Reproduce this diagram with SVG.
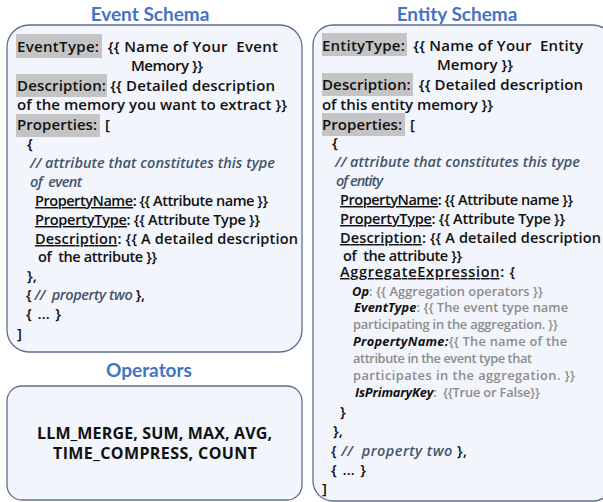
<svg xmlns="http://www.w3.org/2000/svg" width="603" height="502" viewBox="0 0 603 502">
<style>
text{white-space:pre}
.box{fill:#f2f5fb;stroke:#5f6d8c;stroke-width:1.3}
.title{font-family:Lato,"Noto Sans",sans-serif;font-weight:bold;font-size:19px;fill:#4472c4;text-anchor:middle}
.t{font-family:"Open Sans","Noto Sans",sans-serif;font-weight:600;font-size:15px;fill:#111}
.p{font-size:14.5px}
.c{font-style:italic;fill:#44546a}
.u{text-decoration:underline}
.g{font-family:"Open Sans","Noto Sans",sans-serif;font-weight:600;font-size:12.8px;fill:#8c8c8c}
.k{font-style:italic;font-weight:bold;fill:#111}
.hl{fill:#c4c4c4}
.op{font-family:"Open Sans","Noto Sans",sans-serif;font-weight:bold;font-size:16px;fill:#111;text-anchor:middle}
</style>
<rect width="603" height="502" fill="#ffffff"/>
<g id="event-schema">
<text class="title" x="150" y="21">Event Schema</text>
<rect class="box" x="7" y="25" width="295" height="327" rx="22"/>
<rect class="hl" x="16" y="34" width="86" height="24"/>
<rect class="hl" x="16" y="74" width="91" height="23"/>
<rect class="hl" x="16" y="114" width="84" height="23"/>
<text class="t" x="17" y="52" textLength="261">EventType:  {{ Name of Your  Event</text>
<text class="t" x="131" y="71" textLength="72">Memory }}</text>
<text class="t" x="17" y="91" textLength="258">Description: {{ Detailed description</text>
<text class="t" x="17" y="110" textLength="270">of the memory you want to extract }}</text>
<text class="t" x="17" y="130" textLength="93">Properties:  [</text>
<text class="t" x="27" y="149">{</text>
<text class="t p c" x="30" y="168" textLength="245">// attribute that constitutes this type</text>
<text class="t p c" x="30" y="187" textLength="52">of  event</text>
<text class="t p" x="35" y="206" textLength="233"><tspan class="u">PropertyName</tspan>: {{ Attribute name }}</text>
<text class="t p" x="35" y="225" textLength="225"><tspan class="u">PropertyType</tspan>: {{ Attribute Type }}</text>
<text class="t p" x="35" y="244" textLength="263"><tspan class="u">Description</tspan>: {{ A detailed description</text>
<text class="t p" x="38" y="262" textLength="119">of  the attribute }}</text>
<text class="t" x="27" y="281">},</text>
<text class="t p" x="26" y="300" textLength="119">{ <tspan class="c">//  property two</tspan> },</text>
<text class="t" x="26" y="319" textLength="35">{ … }</text>
<text class="t" x="17" y="339">]</text>
</g>
<g id="entity-schema">
<text class="title" x="457" y="21">Entity Schema</text>
<rect class="box" x="313" y="25" width="300" height="476" rx="20"/>
<rect class="hl" x="322" y="33" width="85" height="23"/>
<rect class="hl" x="322" y="73" width="91" height="23"/>
<rect class="hl" x="322" y="113" width="83" height="23"/>
<text class="t" x="322" y="51" textLength="261">EntityType:  {{ Name of Your  Entity</text>
<text class="t" x="437" y="70" textLength="76">Memory }}</text>
<text class="t" x="322" y="90" textLength="261">Description:  {{ Detailed description</text>
<text class="t" x="322" y="110" textLength="171">of this entity memory }}</text>
<text class="t" x="322" y="130" textLength="93">Properties:  [</text>
<text class="t" x="332" y="148">{</text>
<text class="t p c" x="335" y="167" textLength="245">// attribute that constitutes this type</text>
<text class="t p c" x="336" y="186" textLength="47">of entity</text>
<text class="t p" x="340" y="205" textLength="233"><tspan class="u">PropertyName</tspan>: {{ Attribute name }}</text>
<text class="t p" x="340" y="224" textLength="225"><tspan class="u">PropertyType</tspan>: {{ Attribute Type }}</text>
<text class="t p" x="340" y="243" textLength="261"><tspan class="u">Description</tspan>: {{ A detailed description</text>
<text class="t p" x="343" y="261" textLength="119">of  the attribute }}</text>
<text class="t p" x="340" y="277" textLength="175"><tspan class="u">AggregateExpression</tspan>: {</text>
<text class="g" x="352" y="296" textLength="191"><tspan class="k">Op</tspan>: {{ Aggregation operators }}</text>
<text class="g" x="354" y="312" textLength="214"><tspan class="k">EventType</tspan>: {{ The event type name</text>
<text class="g" x="353" y="329" textLength="205">participating in the aggregation. }}</text>
<text class="g" x="353" y="346" textLength="214"><tspan class="k">PropertyName:</tspan>{{ The name of the</text>
<text class="g" x="353" y="363" textLength="179">attribute in the event type that</text>
<text class="g" x="353" y="380" textLength="222">participates in the aggregation. }}</text>
<text class="g" x="355" y="397" textLength="185"><tspan class="k">IsPrimaryKey</tspan>:  {{True or False}}</text>
<text class="t" x="340" y="417">}</text>
<text class="t" x="333" y="436">},</text>
<text class="t p" x="331" y="456" textLength="136">{ <tspan class="c">//  property two</tspan> },</text>
<text class="t" x="331" y="475" textLength="35">{ … }</text>
<text class="t" x="322" y="494">]</text>
</g>
<g id="operators">
<text class="title" x="149" y="377">Operators</text>
<rect class="box" x="7" y="386" width="295" height="114" rx="15"/>
<text class="op" x="154.5" y="439" textLength="235">LLM_MERGE, SUM, MAX, AVG,</text>
<text class="op" x="155" y="459" textLength="204">TIME_COMPRESS, COUNT</text>
</g>
<g id="connectors"></g>
</svg>
